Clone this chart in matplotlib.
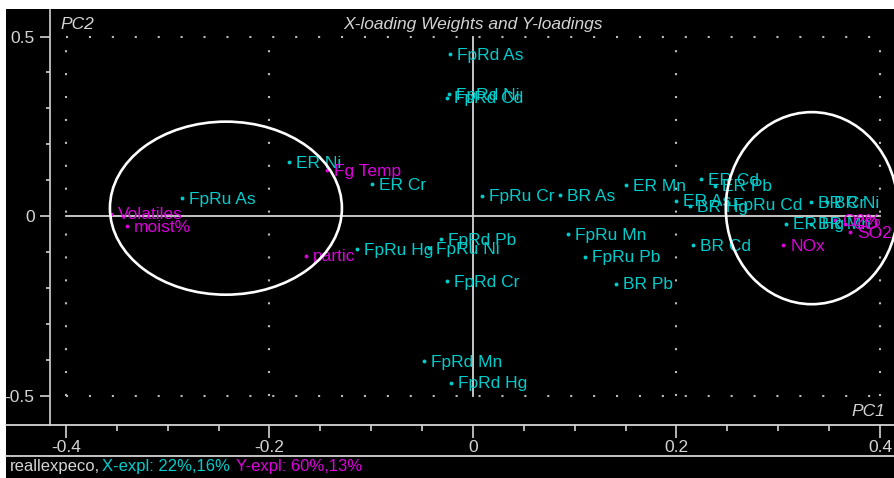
import matplotlib
matplotlib.use("Agg")
import matplotlib.pyplot as plt
from matplotlib.patches import Ellipse
from matplotlib.lines import Line2D
from matplotlib.ticker import MultipleLocator

# X-loading weights (cyan) and Y-loadings (magenta) on PC1 / PC2
x_names = ["FpRd As", "FpRd Ni", "FpRd Cd", "ER Ni", "ER Cr", "FpRu As",
           "FpRu Hg", "FpRd Pb", "FpRu Ni", "FpRd Cr", "FpRu Cr", "BR As",
           "ER Mn", "FpRu Mn", "FpRu Pb", "BR Pb", "FpRd Mn", "FpRd Hg",
           "ER Cd", "ER Pb", "ER As", "BR Hg", "FpRu Cd", "BR Cd",
           "BR Cr", "BR Ni", "ER Hg", "BR Mn"]
x_pc1 = [-0.023, -0.024, -0.026, -0.181, -0.099, -0.286,
         -0.114, -0.031, -0.043, -0.026, 0.009, 0.086,
         0.150, 0.093, 0.110, 0.141, -0.048, -0.022,
         0.224, 0.238, 0.200, 0.213, 0.249, 0.216,
         0.332, 0.348, 0.308, 0.332]
x_pc2 = [0.451, 0.340, 0.329, 0.150, 0.089, 0.050,
         -0.092, -0.064, -0.089, -0.181, 0.056, 0.058,
         0.086, -0.050, -0.114, -0.189, -0.404, -0.465,
         0.103, 0.084, 0.042, 0.028, 0.033, -0.081,
         0.039, 0.039, -0.022, -0.022]

y_names = ["Volatiles", "moist%", "partic", "Fg Temp", "NOx", "SO2", "O2%", "CO"]
y_pc1 = [-0.356, -0.340, -0.164, -0.143, 0.305, 0.371, 0.356, 0.366]
y_pc2 = [0.006, -0.028, -0.111, 0.128, -0.081, -0.045, -0.011, -0.022]

x_ticks = [-0.4, -0.2, 0, 0.2, 0.4]
x_tick_labels = ["-0.4", "-0.2", "0", "0.2", "0.4"]
y_ticks = [0.5, 0, -0.5]
y_tick_labels = ["0.5", "0", "-0.5"]

CYAN = "#00cccc"
MAGENTA = "#dd00dd"
GRAY = "#d4d4d4"
FONT = "Liberation Sans"
FS = 12.5

W, H = 894, 478
fig = plt.figure(figsize=(W / 100, H / 100), dpi=100, facecolor="white")

def fx(px):
    return px / W

def fy(py):
    return 1 - py / H

# black panel behind everything
fig.patches.append(plt.Rectangle((fx(6), 0), 1 - fx(6), fy(9), transform=fig.transFigure,
                                 facecolor="black", edgecolor="none", zorder=-10))

ax = fig.add_axes([fx(50), fy(425), (W - 50) / W, (425 - 10) / H])
ax.set_zorder(1)
ax.set_facecolor("black")
ax.set_xlim(-0.4157, 0.4138)
ax.set_ylim(-0.582, 0.574)

for s in ("top", "right", "bottom"):
    ax.spines[s].set_visible(False)
ax.spines["left"].set_color(GRAY)
ax.spines["left"].set_linewidth(1.2)

ax.set_yticks(y_ticks)
ax.set_yticklabels(y_tick_labels, fontsize=12.5, color=GRAY, family=FONT)
ax.yaxis.set_minor_locator(MultipleLocator(0.1))
ax.tick_params(axis="y", which="major", length=7, width=1.2, color=GRAY, pad=4)
ax.tick_params(axis="y", which="minor", length=3, width=1.2, color=GRAY)

ax.set_xticks(x_ticks)
ax.set_xticklabels(x_tick_labels, fontsize=12.5, color=GRAY, family=FONT)
ax.xaxis.set_minor_locator(MultipleLocator(0.05))
ax.tick_params(axis="x", which="major", length=9, width=1.2, color=GRAY, pad=2)
ax.tick_params(axis="x", which="minor", length=4, width=1.2, color=GRAY)

# dotted grid frame at +-0.4 / +-0.5 and inner -0.2 / 0.2
dot = dict(color="#bbbbbb", linestyle=(0, (1, 10)), linewidth=1.5, zorder=1)
for gx in (-0.4, -0.2, 0.2, 0.4):
    ax.plot([gx, gx], [-0.5, 0.5], **dot)
for gy in (-0.5, 0.5):
    ax.plot([-0.4, 0.4], [gy, gy], **dot)

# solid zero axes
ax.plot([-0.4, 0.4], [0, 0], color=GRAY, lw=1.3, zorder=2)
ax.plot([0, 0], [-0.5, 0.5], color=GRAY, lw=1.3, zorder=2)

# points and their labels
def draw_group(names, xs, ys, color):
    ax.plot(xs, ys, linestyle="none", marker="o", ms=2.8, color=color, mec="none", zorder=4)
    for n, px, py in zip(names, xs, ys):
        ax.annotate(n, (px, py), xytext=(7, -1), textcoords="offset pixels",
                    ha="left", va="center", color=color, fontsize=FS, family=FONT,
                    annotation_clip=False, clip_on=True, zorder=5)

draw_group(x_names, x_pc1, x_pc2, CYAN)
draw_group(y_names, y_pc1, y_pc2, MAGENTA)

# highlighted groups
ax.add_patch(Ellipse((-0.2428, 0.022), 0.228, 0.482, fill=False, ec="white", lw=1.9, zorder=6))
ax.add_patch(Ellipse((0.333, 0.022), 0.169, 0.535, fill=False, ec="white", lw=1.9, zorder=6))

ax.text(0.0, 0.533, "X-loading Weights and Y-loadings", ha="center", va="center",
        color=GRAY, fontsize=FS, style="italic", family=FONT, zorder=7)
ax.text(-0.405, 0.533, "PC2", ha="left", va="center", color=GRAY, fontsize=FS,
        style="italic", family=FONT, zorder=7)
ax.text(0.405, -0.545, "PC1", ha="right", va="center", color=GRAY, fontsize=FS,
        style="italic", family=FONT, zorder=7)

# frame lines of the axis strip and status bar
fig.lines.append(Line2D([fx(6), 1], [fy(425), fy(425)], transform=fig.transFigure,
                        color=GRAY, lw=1.3, zorder=5))
fig.lines.append(Line2D([fx(6), 1], [fy(455.5), fy(455.5)], transform=fig.transFigure,
                        color=GRAY, lw=1.3, zorder=5))

# status bar text
SFS = 12
ty = fy(467)
t1 = fig.text(fx(10), ty, "reallexpeco,", color=GRAY, fontsize=SFS, family=FONT, va="center")
fig.canvas.draw()
r = fig.canvas.get_renderer()
bb = t1.get_window_extent(r)
t2 = fig.text((bb.x1 + 2) / W, ty, "X-expl: 22%,16%", color=CYAN, fontsize=SFS, family=FONT, va="center")
bb2 = t2.get_window_extent(r)
fig.text((bb2.x1 + 6) / W, ty, "Y-expl: 60%,13%", color=MAGENTA, fontsize=SFS, family=FONT, va="center")

fig.savefig("out.png", dpi=100, facecolor="white")
